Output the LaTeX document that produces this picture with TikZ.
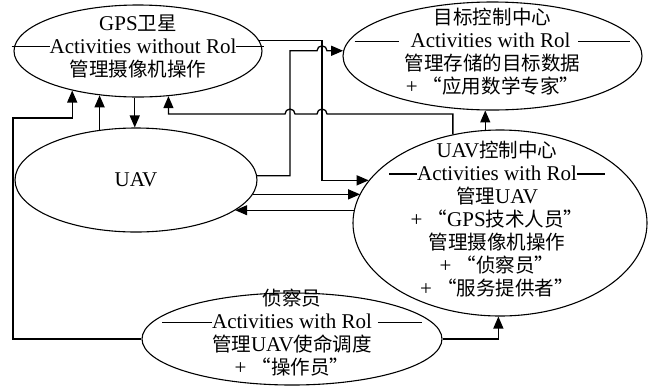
\documentclass[tikz,border=0pt]{standalone}
\usepackage{fontspec}
\setmainfont{Liberation Serif}
\newfontfamily\zh{Noto Sans CJK SC}[Scale=0.93]
\usetikzlibrary{arrows.meta,shapes.geometric,calc}
\newcommand\rolrule[1]{\rule[0.28em]{#1}{1.3pt}}
\tikzset{
  role/.style={draw,ellipse,line width=1.1pt,inner sep=0pt},
  roletext/.style={align=center,inner sep=0pt,font=\fontsize{21bp}{23bp}\selectfont},
  link/.style={line width=1.3pt,-{Triangle[length=12bp,width=10bp]}},
}
\begin{document}
\begin{tikzpicture}[x=1bp,y=-1bp]
  \useasboundingbox (0,0) rectangle (652,389);
  %% Ellipses
  \node[role,minimum width=248bp,minimum height=92bp] (gps) at (138,51) {};
  \node[role,minimum width=299bp,minimum height=108bp] (tgt) at (492.5,56) {};
  \node[role,minimum width=242bp,minimum height=104bp] (uav) at (136,180) {};
  \node[role,minimum width=294bp,minimum height=186bp] (uavc) at (500,223) {};
  \node[role,minimum width=300bp,minimum height=92bp] (scout) at (292,339) {};
  %% Texts
  \node[roletext,yshift=5bp] (gps-t) at (gps) {GPS{\zh 卫星}\\
    \rolrule{38bp}Activities without Rol\rolrule{28bp}\\
    {\zh 管理摄像机操作}};
  \node[roletext,yshift=4bp] (tgt-t) at (tgt) {{\zh 目标控制中心}\\
    \rolrule{44bp}\hspace{12bp}Activities with Rol\hspace{8bp}\rolrule{52bp}\\
    {\zh 管理存储的目标数据}\\
    + {\zh “应用数学专家”}};
  \node[roletext] (uav-t) at (uav) {UAV};
  \node[roletext,yshift=4bp,xshift=-3bp] (uavc-t) at (uavc) {UAV{\zh 控制中心}\\
    \rolrule{28bp}Activities with Rol\rolrule{28bp}\\
    {\zh 管理}UAV\\
    + {\zh “}GPS{\zh 技术人员”}\\
    {\zh 管理摄像机操作}\\
    + {\zh “侦察员”}\\
    + {\zh “服务提供者”}};
  \node[roletext,yshift=6bp] (scout-t) at (scout) {{\zh 侦察员}\\
    \rolrule{50bp}Activities with Rol\hspace{6bp}\rolrule{44bp}\\
    {\zh 管理}UAV{\zh 使命调度}\\
    + {\zh “操作员”}};
  %% Runs of the bent connectors
  \coordinate (busA) at (322,0);
  \coordinate (busB) at (290,0);
  \coordinate (busE) at (0,114);
  \coordinate (busI) at (13,118);
  %% Connectors
  \draw[link] (gps.5.7) -| (busA |- uavc.162.7) -- (uavc.162.7);
  \draw[link] (uav.2.9) -| (busB |- tgt.178.1)
    -- ($(busA |- tgt.178.1)+(-5,0)$) arc[start angle=180,end angle=0,radius=5bp]
    -- (tgt.178.1);
  \draw[link] (uav.-7.4) -- (uav.-7.4 -| uavc.168.7);
  \draw[link] (uavc.175.3) -- (uavc.175.3 -| uav.-17.7);
  \draw[link] (uavc.118.6) |- ($(busA |- busE)+(5,0)$)
    arc[start angle=0,end angle=180,radius=5bp]
    -- ($(busB |- busE)+(5,0)$) arc[start angle=0,end angle=180,radius=5bp]
    -- (gps.-56.1 |- busE) -- (gps.-56.1);
  \draw[link] (uavc.99.8) -- (uavc.99.8 |- tgt.261);
  \draw[link] (gps.266.3) -- (gps.266.3 |- uav.91.1);
  \draw[link] (uav.126) -- (uav.126 |- gps.229);
  \draw[link] (scout.west) -| (busI) -| (gps.211.1);
  \draw[link] (scout.east) -| (uavc.269);
\end{tikzpicture}
\end{document}
